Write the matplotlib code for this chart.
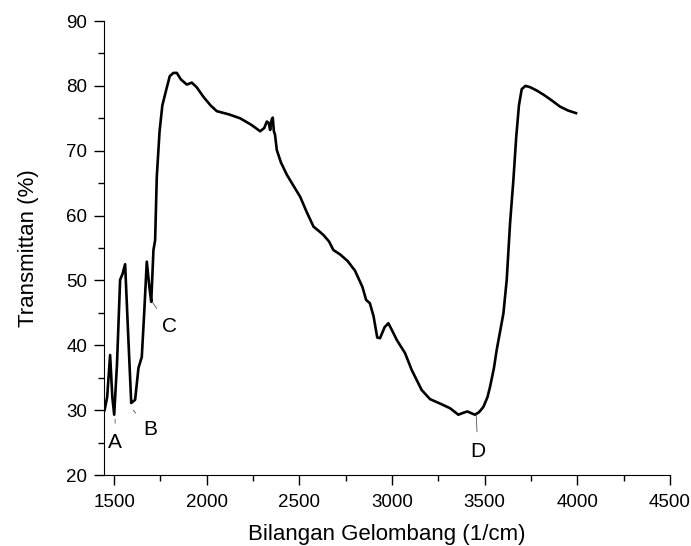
import matplotlib.pyplot as plt
import numpy as np
from matplotlib.ticker import MultipleLocator

# FTIR spectrum
wavenumber = [
    1448, 1462, 1478, 1490, 1500, 1515, 1532, 1545, 1559, 1575,
    1592, 1613, 1631, 1649, 1662, 1676, 1690, 1700, 1712, 1721,
    1730, 1745, 1760, 1781, 1800, 1820, 1838, 1860, 1892, 1919,
    1945, 1982, 2020, 2054, 2120, 2180, 2240, 2288, 2310, 2324,
    2334, 2342, 2350, 2356, 2362, 2368, 2378, 2400, 2432, 2470,
    2504, 2540, 2576, 2610, 2630, 2660, 2683, 2720, 2760, 2800,
    2840, 2860, 2880, 2900, 2920, 2935, 2960, 2980, 3000, 3026,
    3070, 3106, 3160, 3205, 3268, 3313, 3358, 3385, 3407, 3430,
    3448, 3470, 3493, 3515, 3529, 3550, 3565, 3601, 3619, 3637,
    3655, 3670, 3685, 3700, 3720, 3745, 3780, 3820, 3860, 3907,
    3950, 3993,
]
transmittance = [
    30.0, 32.0, 38.5, 32.0, 29.3, 37.0, 50.1, 51.0, 52.5, 42.0,
    31.1, 31.6, 36.5, 38.2, 45.0, 52.9, 49.0, 46.7, 54.7, 56.2,
    66.0, 73.0, 77.0, 79.4, 81.5, 82.0, 82.0, 81.0, 80.2, 80.5,
    79.8, 78.3, 77.0, 76.1, 75.6, 75.0, 74.0, 73.0, 73.5, 74.5,
    74.3, 73.2, 74.8, 75.1, 73.0, 72.5, 70.1, 68.2, 66.3, 64.5,
    62.9, 60.5, 58.3, 57.5, 57.0, 56.0, 54.7, 54.0, 53.0, 51.5,
    49.0, 47.0, 46.5, 44.5, 41.2, 41.1, 42.8, 43.4, 42.3, 40.8,
    38.8, 36.2, 33.1, 31.7, 30.9, 30.3, 29.3, 29.6, 29.8, 29.5,
    29.3, 29.7, 30.5, 32.0, 33.6, 36.5, 39.3, 44.9, 50.1, 58.8,
    65.5, 72.0, 77.0, 79.5, 80.0, 79.8, 79.3, 78.6, 77.8, 76.8,
    76.2, 75.8,
]

# peak labels with the point they mark and where the text sits
peak_labels = ["A", "B", "C", "D"]
peak_xy = [(1505, 28.6), (1603, 30.0), (1705, 46.7), (3454, 29.3)]
label_xy = [(1505, 25.0), (1694, 27.0), (1797, 42.9), (3464, 23.7)]

plt.rcParams["font.family"] = ["Liberation Sans", "DejaVu Sans"]

fig = plt.figure(figsize=(6.91, 5.46), dpi=100)
ax = fig.add_axes([0.1505, 0.130, 0.819, 0.8315])

ax.plot(wavenumber, transmittance, color="black", linewidth=1.9)

for label, xy, xytext in zip(peak_labels, peak_xy, label_xy):
    ax.annotate(
        label,
        xy=xy,
        xytext=xytext,
        ha="center",
        va="center",
        fontsize=15,
        arrowprops=dict(arrowstyle="-", color="#555555", lw=0.6,
                        shrinkA=5, shrinkB=0),
    )

ax.set_xlim(1445, 4500)
ax.set_ylim(20, 90)
ax.xaxis.set_major_locator(MultipleLocator(500))
ax.xaxis.set_minor_locator(MultipleLocator(250))
ax.yaxis.set_major_locator(MultipleLocator(10))
ax.yaxis.set_minor_locator(MultipleLocator(5))

for side in ("top", "right"):
    ax.spines[side].set_visible(False)
ax.tick_params(which="major", direction="out", length=7, width=1,
               labelsize=13.5, pad=5)
ax.tick_params(axis="x", which="major", pad=7)
ax.tick_params(which="minor", direction="out", length=4, width=1)

ax.set_xlabel("Bilangan Gelombang (1/cm)", fontsize=16, labelpad=9)
ax.set_ylabel("Transmittan (%)", fontsize=16, labelpad=20)

fig.savefig("out.png", dpi=100)
